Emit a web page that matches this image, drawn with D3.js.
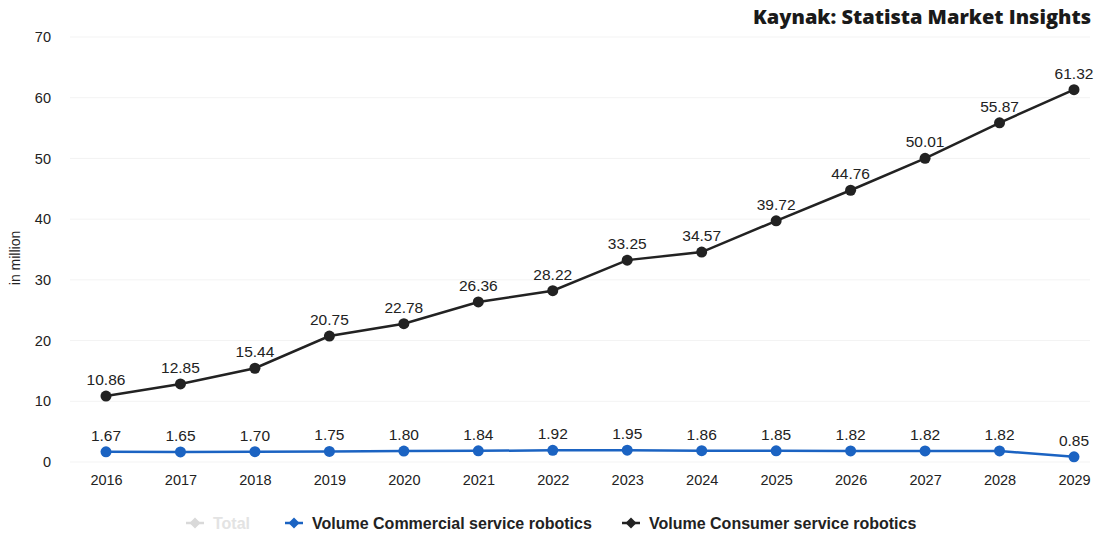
<!DOCTYPE html>
<html><head><meta charset="utf-8">
<script src="https://cdn.jsdelivr.net/npm/d3@7"></script>
<style>
html,body{margin:0;padding:0;background:#fff;}
svg text{font-family:"Liberation Sans",Arial,sans-serif;}
svg text.title{font-family:"Open Sans",sans-serif;font-weight:800;}
</style></head>
<body><svg id="c" width="1097" height="537"></svg>
<script>
const years = ["2016","2017","2018","2019","2020","2021","2022","2023","2024","2025","2026","2027","2028","2029"];
const commercial = [1.67,1.65,1.70,1.75,1.80,1.84,1.92,1.95,1.86,1.85,1.82,1.82,1.82,0.85];
const consumer = [10.86,12.85,15.44,20.75,22.78,26.36,28.22,33.25,34.57,39.72,44.76,50.01,55.87,61.32];
const yTicks = [0,10,20,30,40,50,60,70];
const seriesNames = ["Total","Volume Commercial service robotics","Volume Consumer service robotics"];
const colors = {commercial:"#1b63c2", consumer:"#222222", total:"#d9d9d9"};

const svg = d3.select("#c");
const x = d3.scalePoint().domain(years).range([106,1074]);
const y = d3.scaleLinear().domain([0,70]).range([462,37]);

// grid
svg.append("g").selectAll("line").data(yTicks).join("line")
  .attr("x1",70).attr("x2",1090).attr("y1",d=>y(d)).attr("y2",d=>y(d))
  .attr("stroke","#f3f3f3").attr("stroke-width",1);

// y axis
const ya = svg.append("g").attr("transform","translate(51,0)")
  .call(d3.axisLeft(y).tickValues(yTicks).tickSize(0).tickPadding(0));
ya.select(".domain").remove();
ya.selectAll("text").attr("font-size",14.5).attr("fill","#222");

// x axis
const xa = svg.append("g").attr("transform","translate(0,471)")
  .call(d3.axisBottom(x).tickSize(0).tickPadding(4));
xa.select(".domain").remove();
xa.selectAll("text").attr("font-size",14.5).attr("fill","#222");

// y axis title
svg.append("text").attr("transform","translate(20,258) rotate(-90)")
  .attr("text-anchor","middle").attr("font-size",14).attr("fill","#222").text("in million");

// title
svg.append("text").attr("class","title").attr("x",1091).attr("y",24).attr("text-anchor","end")
  .attr("font-size",20).attr("fill","#1a1a1a").text("Kaynak: Statista Market Insights");

function drawSeries(vals,color){
  const line = d3.line().x((d,i)=>x(years[i])).y(d=>y(d));
  svg.append("path").datum(vals).attr("d",line).attr("fill","none")
    .attr("stroke",color).attr("stroke-width",2.5);
  svg.append("g").selectAll("circle").data(vals).join("circle")
    .attr("cx",(d,i)=>x(years[i])).attr("cy",d=>y(d)).attr("r",5.5)
    .attr("fill",color);
  svg.append("g").selectAll("text").data(vals).join("text")
    .attr("x",(d,i)=>x(years[i])).attr("y",d=>y(d)-11)
    .attr("text-anchor","middle").attr("font-size",15.5).attr("fill","#222")
    .text(d=>d.toFixed(2));
}
drawSeries(commercial,colors.commercial);
drawSeries(consumer,colors.consumer);

// legend
const legend = [
  {name:seriesNames[0], color:colors.total, x:186, tc:"#e3e3e3"},
  {name:seriesNames[1], color:colors.commercial, x:285, tc:"#222"},
  {name:seriesNames[2], color:colors.consumer, x:622, tc:"#222"}
];
const lg = svg.append("g").selectAll("g").data(legend).join("g")
  .attr("transform",d=>`translate(${d.x},523)`);
lg.append("line").attr("x1",0).attr("x2",18).attr("y1",0).attr("y2",0)
  .attr("stroke",d=>d.color).attr("stroke-width",2.5);
lg.append("path").attr("d","M9,-5.5 L14.5,0 L9,5.5 L3.5,0Z").attr("fill",d=>d.color);
lg.append("text").attr("x",27).attr("y",5.5).attr("font-size",16).attr("font-weight","bold")
  .attr("fill",d=>d.tc).text(d=>d.name);
</script></body></html>
